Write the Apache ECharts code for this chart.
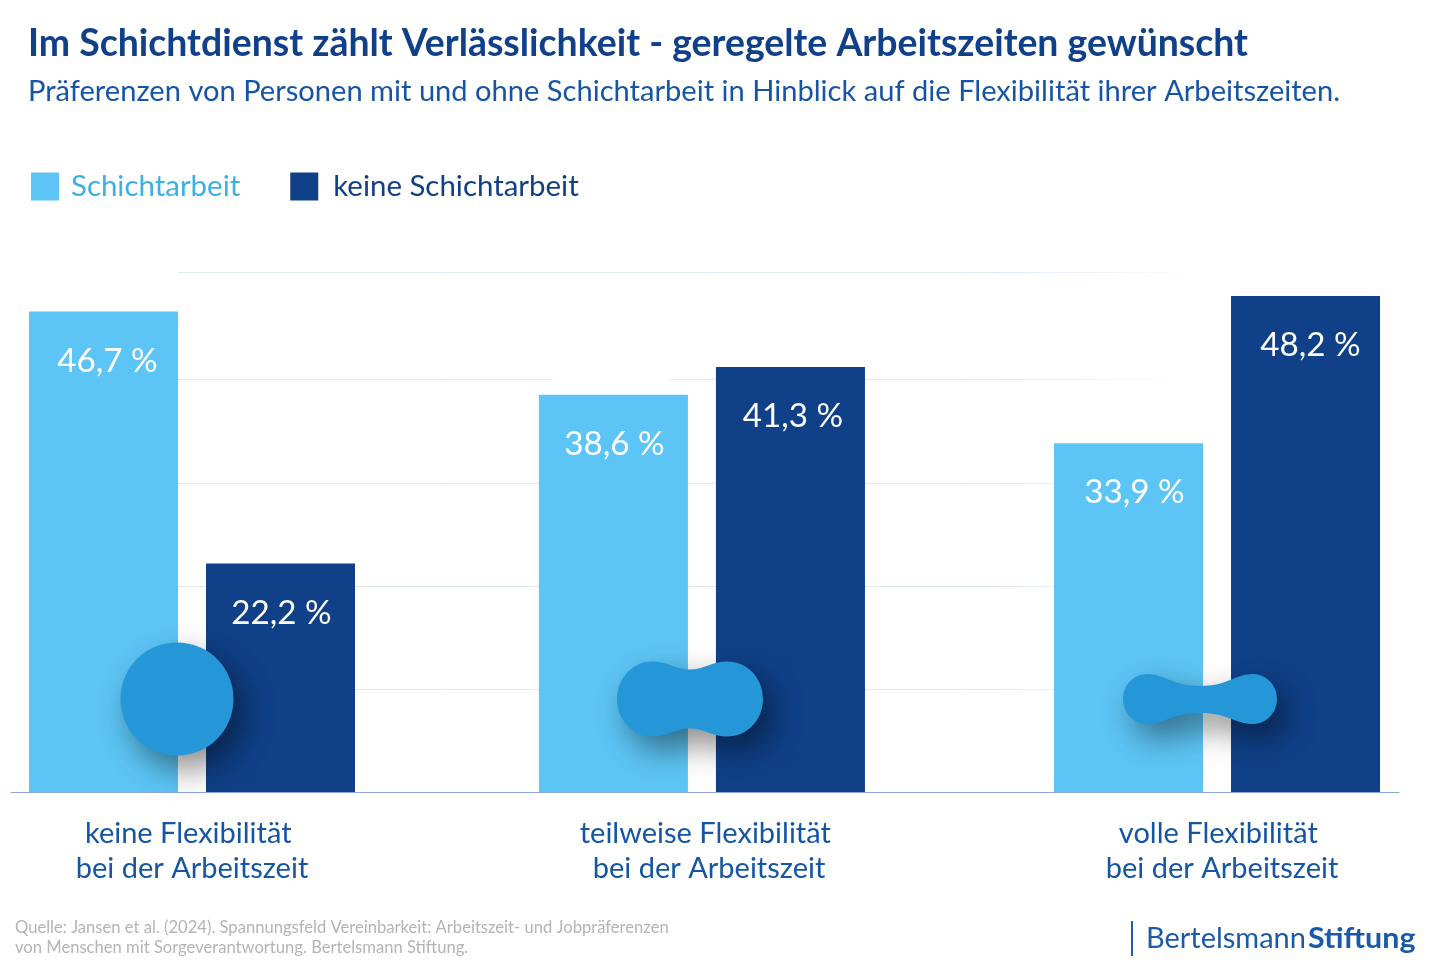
<!DOCTYPE html>
<html lang="de">
<head>
<meta charset="utf-8">
<title>Im Schichtdienst zählt Verlässlichkeit</title>
<style>html,body{margin:0;padding:0;background:#fff}#c{width:1433px;height:968px}</style>
<script src="https://cdn.jsdelivr.net/npm/echarts@6/dist/echarts.min.js"></script>
</head>
<body>
<div id="c"></div>
<script>
const titleText = 'Im Schichtdienst zählt Verlässlichkeit - geregelte Arbeitszeiten gewünscht';
const subtitleText = 'Präferenzen von Personen mit und ohne Schichtarbeit in Hinblick auf die Flexibilität ihrer Arbeitszeiten.';
const categories = ['keine Flexibilität\u00A0\nbei der Arbeitszeit', 'teilweise Flexibilität\u00A0\nbei der Arbeitszeit', 'volle Flexibilität\u00A0\nbei der Arbeitszeit'];
const seriesNames = ['Schichtarbeit', 'keine Schichtarbeit'];
const schichtarbeit = [46.7, 38.6, 33.9];
const keineSchichtarbeit = [22.2, 41.3, 48.2];
const groupSlots = [0, 0.995, 2];
const labelSlots = [0, 1.0088, 2.0098];
const gridValues = [10, 20, 30, 40.1, 50.5];
const sourceLines = 'Quelle: Jansen et al. (2024). Spannungsfeld Vereinbarkeit: Arbeitszeit- und Jobpräferenzen\nvon Menschen mit Sorgeverantwortung. Bertelsmann Stiftung.';

const FONT = 'Lato';
const chart = echarts.init(document.getElementById('c'), null, {renderer: 'canvas', width: 1433, height: 968});
const fmt = p => p.value[1].toFixed(1).replace('.', ',') + ' %';
const barData = (vals, shifts) => vals.map((v, i) => ({value: [groupSlots[i], v], label: {offset: [shifts[i], 33]}}));
const barLabel = {show: true, position: 'insideTop', distance: 0, formatter: fmt,
  color: '#fff', fontFamily: FONT, fontSize: 33.2};
const fade = new echarts.graphic.LinearGradient(178, 0, 1231, 0, [
  {offset: 0, color: '#dfe9f4'}, {offset: 0.78, color: '#dfe9f4'}, {offset: 0.97, color: 'rgba(223,233,244,0)'}, {offset: 1, color: 'rgba(223,233,244,0)'}], true);
const blobStyle = {fill: '#2596d8', shadowBlur: 32, shadowOffsetX: 10, shadowOffsetY: 14, shadowColor: 'rgba(0,0,0,0.45)'};
// Decorative flexibility shapes, anchored on each group through the axes.
const blobShapes = [
  {dx: -15, w: 113, h: 113, d: 'M0 56.5C0 25 25 0 56.5 0C88 0 113 25 113 56.5C113 88 88 113 56.5 113C25 113 0 88 0 56.5Z'},
  {dx: -12, w: 146, h: 75, d: 'M0 37.5C0 16 17 0 35 0C51 0 59 8 73 8C87 8 95 0 110 0C130 0 146 16 146 37.5C146 59 130 75 110 75C95 75 87 67 73 67C59 67 51 75 35 75C17 75 0 59 0 37.5Z'},
  {dx: -17, w: 154, h: 50, d: 'M0 25C0 11 11 0 24 0C42 0 49 12 77 12C105 12 112 0 130 0C143 0 154 11 154 25C154 39 143 50 130 50C112 50 105 39 77 39C49 39 42 50 24 50C11 50 0 39 0 25Z'}
];
const blobLevel = 9.03;

chart.setOption({
  animation: false,
  backgroundColor: '#fff',
  title: {
    left: 23, top: 20, text: titleText, subtext: subtitleText, itemGap: 15,
    textStyle: {fontFamily: FONT, fontWeight: 700, fontSize: 37.4, color: '#0f4089'},
    subtextStyle: {fontFamily: FONT, fontWeight: 400, fontSize: 29.1, color: '#1655a6'}
  },
  legend: {
    left: 26, top: 167, itemWidth: 28, itemHeight: 28, itemGap: 50, icon: 'rect', selectedMode: false,
    data: [
      {name: seriesNames[0], textStyle: {color: '#3cafe6', padding: [0, 0, 0, 7]}},
      {name: seriesNames[1], textStyle: {color: '#0f3f85', padding: [0, 0, 0, 10]}}
    ],
    textStyle: {fontFamily: FONT, fontSize: 29.45}
  },
  grid: [
    {left: 11, width: 1388, top: 277.5, height: 514.5},
    {left: 178, width: 1053, top: 272, height: 520}
  ],
  xAxis: [
    {type: 'value', gridIndex: 0, min: -0.35317, max: 2.3551,
     axisLine: {show: true, onZero: true, lineStyle: {color: '#8fa6d6', width: 1}},
     axisTick: {show: false, customValues: labelSlots}, splitLine: {show: false},
     axisLabel: {customValues: labelSlots, margin: 24, lineHeight: 35, fontFamily: FONT, fontSize: 29, color: '#1455a4',
       formatter: v => categories[labelSlots.indexOf(v)] || ''}},
    {type: 'value', gridIndex: 1, min: 0, max: 1, show: false}
  ],
  yAxis: [
    {type: 'value', gridIndex: 0, min: 0, max: 50, show: false},
    {type: 'value', gridIndex: 1, min: 0, max: 50.5,
     axisLine: {show: false}, axisLabel: {show: false},
     axisTick: {show: false, customValues: gridValues},
     splitLine: {show: true, lineStyle: {color: fade, width: 1}}}
  ],
  series: [
    {name: seriesNames[0], type: 'bar', xAxisIndex: 0, yAxisIndex: 0, data: barData(schichtarbeit, [4, 1, 6]), barWidth: 149, barGap: '18.8%',
     itemStyle: {color: '#5cc5f5'}, label: barLabel, z: 3},
    {name: seriesNames[1], type: 'bar', xAxisIndex: 0, yAxisIndex: 0, data: barData(keineSchichtarbeit, [1, 2.5, 5]), barWidth: 149,
     itemStyle: {color: '#0f4088'}, label: barLabel, z: 3},
    {type: 'custom', xAxisIndex: 0, yAxisIndex: 0, z: 10, silent: true, clip: false,
     data: groupSlots.map((s, i) => [s, blobLevel, i]),
     renderItem: (params, api) => {
       const b = blobShapes[api.value(2)];
       const c = api.coord([api.value(0), api.value(1)]);
       return {type: 'path', shape: {pathData: b.d, x: c[0] + b.dx - b.w / 2, y: c[1] - b.h / 2, width: b.w, height: b.h}, style: blobStyle};
     }}
  ],
  graphic: [
    {type: 'rect', z: 1, shape: {x: 553, y: 375, width: 117, height: 8}, style: {fill: '#fff'}},
    {type: 'text', z: 10, x: 15, y: 917, style: {text: sourceLines, fill: '#b4b4b4', font: '400 16.6px ' + FONT, lineHeight: 20.5}},
    {type: 'rect', z: 10, shape: {x: 1131, y: 921, width: 2, height: 35}, style: {fill: '#1f5fae'}},
    {type: 'text', z: 10, x: 1146, y: 925, scaleX: 1.035, style: {text: 'Bertelsmann', fill: '#1a5aa8', font: '400 28px ' + FONT}},
    {type: 'text', z: 10, x: 1308, y: 925, scaleX: 1.086, style: {text: 'Stiftung', fill: '#1a5aa8', font: '700 28px ' + FONT}}
  ]
});
</script>
</body>
</html>
